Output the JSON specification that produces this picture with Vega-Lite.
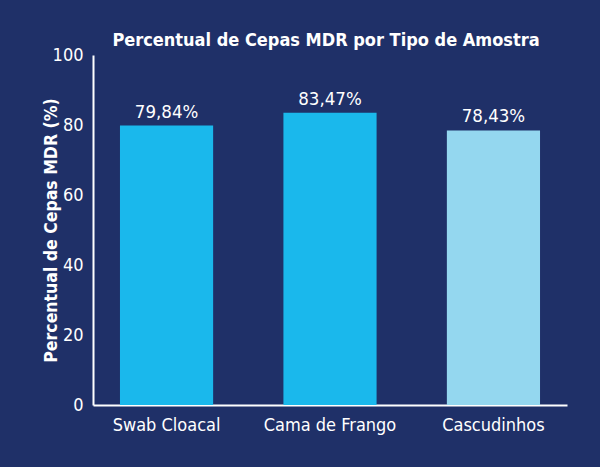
{
  "$schema": "https://vega.github.io/schema/vega-lite/v6.json",
  "width": 474,
  "height": 350,
  "autosize": {"type": "none"},
  "padding": {"left": 93, "top": 55, "right": 33, "bottom": 62},
  "background": "#1f3068",
  "title": {
    "text": "Percentual de Cepas MDR por Tipo de Amostra",
    "color": "white",
    "font": "DejaVu Sans Condensed, Roboto",
    "fontSize": 18,
    "fontWeight": "bold",
    "anchor": "middle",
    "dx": -4,
    "offset": -4
  },
  "data": {
    "values": [
      {"amostra": "Swab Cloacal", "valor": 79.84, "rotulo": "79,84%"},
      {"amostra": "Cama de Frango", "valor": 83.47, "rotulo": "83,47%"},
      {"amostra": "Cascudinhos", "valor": 78.43, "rotulo": "78,43%"}
    ]
  },
  "encoding": {
    "x": {
      "field": "amostra",
      "type": "nominal",
      "sort": null,
      "scale": {"paddingInner": 0.43, "paddingOuter": 0.165},
      "axis": {
        "title": null,
        "labelAngle": 0,
        "labelColor": "white",
        "labelFont": "DejaVu Sans Condensed, Roboto",
        "labelFontSize": 18,
        "labelPadding": 11,
        "ticks": false,
        "domainColor": "white",
        "domainWidth": 2
      }
    },
    "y": {
      "field": "valor",
      "type": "quantitative",
      "scale": {"domain": [0, 100]},
      "axis": {
        "title": "Percentual de Cepas MDR (%)",
        "titleColor": "white",
        "titleFont": "DejaVu Sans Condensed, Roboto",
        "titleFontSize": 17.5,
        "titleFontWeight": "bold",
        "titlePadding": -8,
        "values": [0, 20, 40, 60, 80, 100],
        "grid": false,
        "ticks": false,
        "labelColor": "white",
        "labelFont": "DejaVu Sans Condensed, Roboto",
        "labelFontSize": 18,
        "labelPadding": 10,
        "domainColor": "white",
        "domainWidth": 2
      }
    }
  },
  "layer": [
    {
      "mark": {"type": "bar"},
      "encoding": {
        "color": {
          "field": "amostra",
          "type": "nominal",
          "scale": {
            "domain": ["Swab Cloacal", "Cama de Frango", "Cascudinhos"],
            "range": ["#1ab8ec", "#1ab8ec", "#94d7ef"]
          },
          "legend": null
        }
      }
    },
    {
      "mark": {
        "type": "text",
        "baseline": "bottom",
        "dy": -4,
        "color": "white",
        "font": "DejaVu Sans Condensed, Roboto",
        "fontSize": 18.5
      },
      "encoding": {"text": {"field": "rotulo"}}
    }
  ],
  "config": {"view": {"stroke": null}}
}
